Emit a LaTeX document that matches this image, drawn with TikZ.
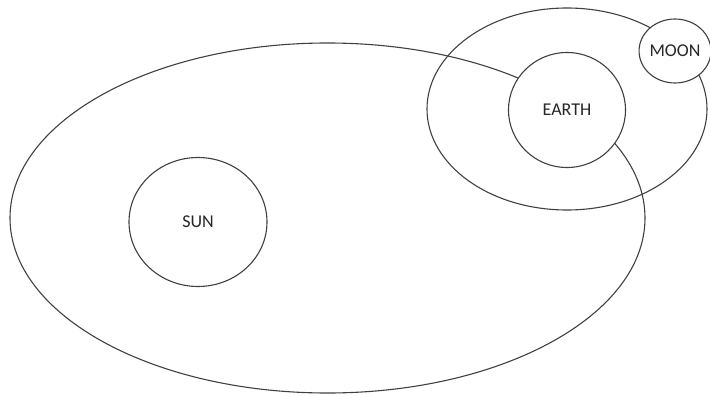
\documentclass[tikz,border=0pt]{standalone}
\usepackage{fontspec}
\setmainfont{Carlito}
\usetikzlibrary{shapes.geometric}
\begin{document}
\begin{tikzpicture}[x=1pt,y=-1pt,
  orbit/.style={ellipse,draw=black!75,line width=1.1pt,inner sep=0pt},
  body/.style={ellipse,draw=black!75,line width=1.1pt,fill=white,inner sep=0pt,font=\fontsize{18}{21}\selectfont,text=black!85}]
\useasboundingbox (0,0) rectangle (710,396);
\node[orbit,minimum width=635pt,minimum height=350pt] (earthorbit) at (327.5,218) {};
\node[orbit,minimum width=280pt,minimum height=202pt] (moonorbit) at (567,109) {};
\node[body,minimum width=138pt,minimum height=129pt] (sun) at (198,222) {\raisebox{-3pt}{SUN}};
\node[body,minimum width=117pt,minimum height=115pt] (earth) at (567,110) {\raisebox{-1pt}{EARTH}};
\node[body,minimum width=70pt,minimum height=64pt] (moon) at (675,51) {MOON};
\end{tikzpicture}
\end{document}
